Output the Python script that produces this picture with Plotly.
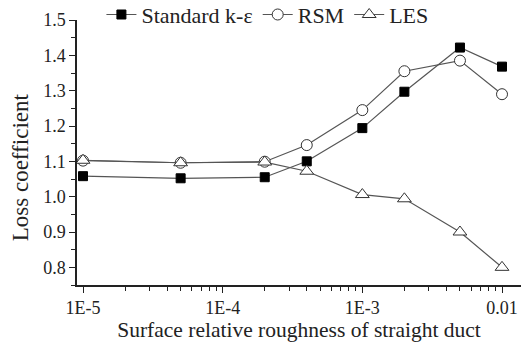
import plotly.graph_objects as go

roughness = [1e-5, 5e-5, 2e-4, 4e-4, 1e-3, 2e-3, 5e-3, 1e-2]
ke = [1.058, 1.052, 1.055, 1.100, 1.194, 1.297, 1.422, 1.368]
rsm = [1.102, 1.096, 1.099, 1.146, 1.245, 1.355, 1.385, 1.290]
les = [1.103, 1.096, 1.098, 1.072, 1.006, 0.994, 0.900, 0.800]

x_tickvals = [1e-5, 1e-4, 1e-3, 1e-2]
x_ticktext = ["1E-5", "1E-4", "1E-3", "0.01"]
y_tickvals = [0.8, 0.9, 1.0, 1.1, 1.2, 1.3, 1.4, 1.5]
y_ticktext = ["0.8", "0.9", "1.0", "1.1", "1.2", "1.3", "1.4", "1.5"]

FONT = "Liberation Serif"
LINE = "#555555"

fig = go.Figure()
fig.add_trace(go.Scatter(x=roughness, y=ke, name="Standard k-ε", mode="lines+markers",
                         line=dict(color=LINE, width=1.2),
                         marker=dict(symbol="square", size=9, color="black", line=dict(color="black", width=1))))
fig.add_trace(go.Scatter(x=roughness, y=rsm, name="RSM", mode="lines+markers",
                         line=dict(color=LINE, width=1.2),
                         marker=dict(symbol="circle", size=11, color="white", line=dict(color="#333333", width=1))))
fig.add_trace(go.Scatter(x=roughness, y=les, name="LES", mode="lines+markers",
                         line=dict(color=LINE, width=1.2),
                         marker=dict(symbol="triangle-up", size=12, color="white", line=dict(color="#333333", width=1))))

fig.update_layout(
    width=521, height=345,
    margin=dict(l=77, r=0, t=20, b=60, autoexpand=False),
    paper_bgcolor="white", plot_bgcolor="white",
    font=dict(family=FONT, size=18, color="#222222"),
    showlegend=True,
    legend=dict(orientation="h", x=0.055, xanchor="left", y=1.02, yanchor="middle",
                font=dict(family=FONT, size=22, color="#222222"),
                bgcolor="rgba(0,0,0,0)", itemwidth=30, tracegroupgap=0),
    xaxis=dict(type="log", range=[-5.043, -1.864],
               tickvals=x_tickvals, ticktext=x_ticktext, ticklabeloverflow="allow",
               ticks="outside", ticklen=6, tickwidth=1.2, tickcolor="#222222",
               minor=dict(ticks="outside", ticklen=4, tickcolor="#222222", tickwidth=1.2,
                          tickvals=[m * 10**e for e in (-5, -4, -3) for m in range(2, 10)]),
               showline=True, linecolor="#222222", linewidth=1.5,
               showgrid=False, zeroline=False,
               title=dict(text="Surface relative roughness of straight duct", font=dict(size=21.5), standoff=5),
               tickfont=dict(size=18)),
    yaxis=dict(range=[0.75, 1.5],
               tickvals=y_tickvals, ticktext=y_ticktext,
               ticks="outside", ticklen=6, tickwidth=1.2, tickcolor="#222222",
               minor=dict(ticks="outside", ticklen=4, tickcolor="#222222", tickwidth=1.2, dtick=0.05),
               showline=True, linecolor="#222222", linewidth=1.5,
               showgrid=False, zeroline=False,
               tickfont=dict(size=18)),
    annotations=[dict(text="Loss coefficient", xref="paper", yref="paper",
                      x=-0.128, y=0.445, xanchor="center", yanchor="middle",
                      textangle=-90, showarrow=False, font=dict(family=FONT, size=23, color="#222222"))],
)

fig.write_html("out.html")
